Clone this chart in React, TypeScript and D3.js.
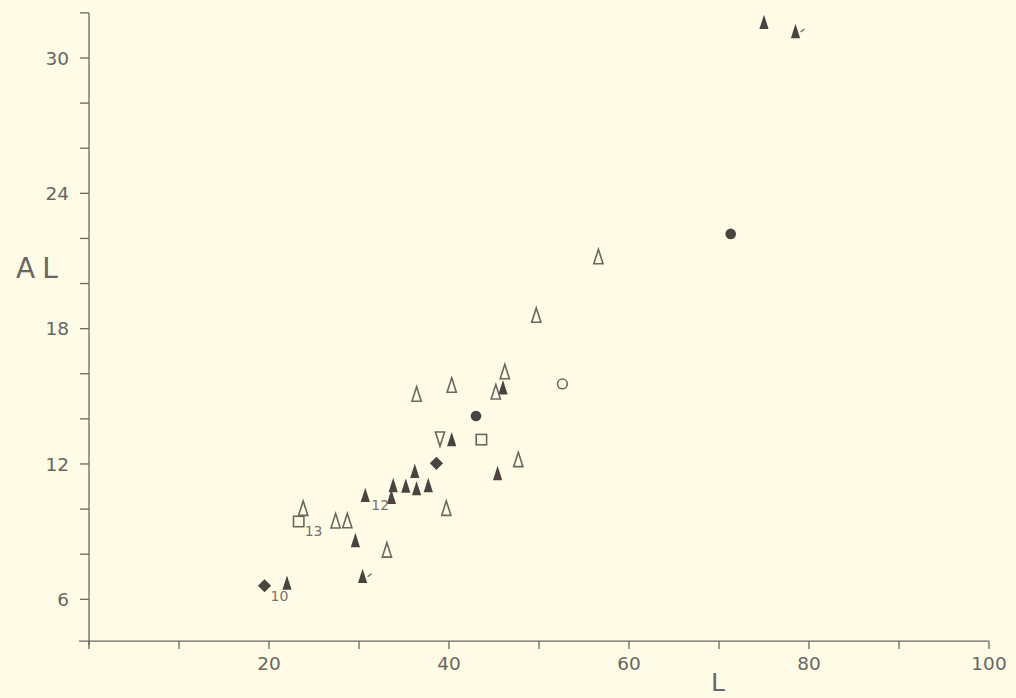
import React from "react";
import * as d3 from "d3";

const WIDTH = 1016;
const HEIGHT = 698;

// L (x) and AL (y) for each specimen group, by marker style
const solidTriangles: [number, number][] = [
  [75.0, 31.6], [78.5, 31.2], [46.0, 15.4], [40.3, 13.1], [45.4, 11.6],
  [36.2, 11.7], [33.8, 11.07], [35.2, 11.04], [36.4, 10.93], [37.7, 11.07],
  [33.6, 10.55], [30.7, 10.63], [29.6, 8.63], [30.4, 7.04], [22.0, 6.74],
];
const openTriangles: [number, number][] = [
  [56.6, 21.2], [49.7, 18.6], [46.2, 16.1], [45.2, 15.2], [36.4, 15.1],
  [40.3, 15.5], [47.7, 12.2], [39.7, 10.04], [23.8, 10.04], [27.4, 9.48],
  [28.7, 9.49], [33.1, 8.19],
];
const openInvTriangles: [number, number][] = [[39.0, 13.1]];
const openSquares: [number, number][] = [[43.6, 13.08], [23.3, 9.45]];
const solidCircles: [number, number][] = [[71.3, 22.2], [43.0, 14.13]];
const openCircles: [number, number][] = [[52.6, 15.55]];
const solidDiamonds: [number, number][] = [[38.6, 12.03], [19.5, 6.6]];

// specimen numbers written beside a few points
const pointLabels: { text: string; L: number; AL: number }[] = [
  { text: "10", L: 19.5, AL: 6.6 },
  { text: "13", L: 23.3, AL: 9.45 },
  { text: "12", L: 30.7, AL: 10.63 },
];
// small pen marks beside two of the solid triangles
const markedPoints: [number, number][] = [[78.5, 31.2], [30.4, 7.04]];

const xTicks = [0, 10, 20, 30, 40, 50, 60, 70, 80, 90, 100];
const xTickLabels = [20, 40, 60, 80, 100];
const yTicks = [6, 8, 10, 12, 14, 16, 18, 20, 22, 24, 26, 28, 30, 32];
const yTickLabels = [6, 12, 18, 24, 30];
const xAxisLevel = 4.15;

const BG = "#fefce6";
const INK = "#6e6460";
const SOLID = "#4d4240";
const FONT = "'DejaVu Sans', sans-serif";

export default function App() {
  const x = d3.scaleLinear().domain([0, 100]).range([89, 989]);
  const y = d3.scaleLinear().domain([6, 30]).range([599.3, 58]);

  const x0 = x(0);
  const yBase = y(xAxisLevel);
  const yTop = y(32);

  const tri = (cx: number, cy: number, up: boolean) => {
    const hw = 4.6, hh = 7.2;
    return up
      ? `M${cx},${cy - hh}L${cx + hw},${cy + hh}L${cx - hw},${cy + hh}Z`
      : `M${cx},${cy + hh}L${cx + hw},${cy - hh}L${cx - hw},${cy - hh}Z`;
  };

  return (
    <svg
      width={WIDTH}
      height={HEIGHT}
      style={{ position: "absolute", left: 0, top: 0, background: BG }}
    >
      <rect x={0} y={0} width={WIDTH} height={HEIGHT} fill={BG} />

      {/* axes */}
      <g stroke={INK} strokeWidth={1.3} fill="none">
        <line x1={x0 - 10} y1={yBase} x2={x(100)} y2={yBase} />
        <line x1={x0} y1={yTop} x2={x0} y2={yBase + 4} />
        {xTicks.map((t) => (
          <line key={"xt" + t} x1={x(t)} y1={yBase} x2={x(t)} y2={yBase + 8} />
        ))}
        {yTicks.map((t) => (
          <line key={"yt" + t} x1={x0 - 9} y1={y(t)} x2={x0} y2={y(t)} />
        ))}
      </g>

      <g fill="#6a6462" fontFamily={FONT} fontSize={18.5}>
        {xTickLabels.map((t) => (
          <text key={"xl" + t} x={x(t)} y={yBase + 29} textAnchor="middle">
            {t}
          </text>
        ))}
        {yTickLabels.map((t) => (
          <text
            key={"yl" + t}
            x={x0 - 20}
            y={y(t)}
            dy="0.36em"
            textAnchor="end"
          >
            {t}
          </text>
        ))}
      </g>

      {/* axis titles */}
      <text
        x={16}
        y={278}
        fill="#6a6462"
        fontFamily={FONT}
        fontSize={28}
        letterSpacing={7}
      >
        AL
      </text>
      <text
        x={718}
        y={691}
        fill="#6a6462"
        fontFamily={FONT}
        fontSize={25}
        textAnchor="middle"
      >
        L
      </text>

      {/* markers */}
      <g fill={SOLID} stroke="none">
        {solidTriangles.map(([l, a], i) => (
          <path key={"st" + i} d={tri(x(l), y(a), true)} />
        ))}
        {solidCircles.map(([l, a], i) => (
          <circle key={"sc" + i} cx={x(l)} cy={y(a)} r={5.3} />
        ))}
        {solidDiamonds.map(([l, a], i) => {
          const cx = x(l), cy = y(a), r = 6.6;
          return (
            <path
              key={"sd" + i}
              d={`M${cx},${cy - r}L${cx + r},${cy}L${cx},${cy + r}L${cx - r},${cy}Z`}
            />
          );
        })}
      </g>
      <g fill={BG} stroke={INK} strokeWidth={1.6}>
        {openTriangles.map(([l, a], i) => (
          <path key={"ot" + i} d={tri(x(l), y(a), true)} />
        ))}
        {openInvTriangles.map(([l, a], i) => (
          <path key={"oi" + i} d={tri(x(l), y(a), false)} />
        ))}
        {openSquares.map(([l, a], i) => (
          <rect key={"os" + i} x={x(l) - 5.2} y={y(a) - 5.2} width={10.4} height={10.4} />
        ))}
        {openCircles.map(([l, a], i) => (
          <circle key={"oc" + i} cx={x(l)} cy={y(a)} r={4.9} />
        ))}
      </g>

      <g stroke={INK} strokeWidth={1.2}>
        {markedPoints.map(([l, a], i) => (
          <line key={"mk" + i} x1={x(l) + 5} y1={y(a) + 1} x2={x(l) + 9} y2={y(a) - 2} />
        ))}
      </g>

      <g fill="#777170" fontFamily={FONT} fontSize={14}>
        {pointLabels.map((p) => (
          <text key={"pl" + p.text} x={x(p.L) + 6} y={y(p.AL) + 15}>
            {p.text}
          </text>
        ))}
      </g>
    </svg>
  );
}
